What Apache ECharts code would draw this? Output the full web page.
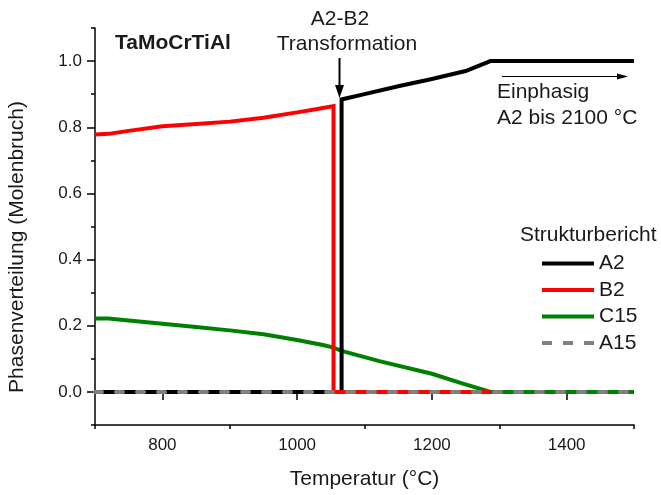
<!DOCTYPE html>
<html><head><meta charset="utf-8">
<script src="https://cdn.jsdelivr.net/npm/echarts@6/dist/echarts.min.js"></script>
<style>html,body{margin:0;padding:0;background:#fff}#c{width:661px;height:495px}</style>
</head><body><div id="c"></div>
<script>
// ---- data ----
const seriesNames = ['A2', 'B2', 'C15', 'A15'];
const a2Temp = [700, 1066, 1066, 1100, 1150, 1200, 1250, 1287, 1500];
const a2Frac = [0, 0, 0.884, 0.900, 0.924, 0.946, 0.970, 1.0, 1.0];
const b2Temp = [700, 720, 750, 800, 850, 900, 950, 1000, 1030, 1054, 1054, 1287];
const b2Frac = [0.778, 0.780, 0.789, 0.803, 0.810, 0.817, 0.829, 0.845, 0.855, 0.864, 0, 0];
const c15Temp = [700, 720, 750, 800, 850, 900, 950, 1000, 1040, 1054, 1066, 1122, 1200, 1246, 1287, 1500];
const c15Frac = [0.222, 0.222, 0.216, 0.206, 0.196, 0.186, 0.174, 0.157, 0.141, 0.134, 0.124, 0.093, 0.055, 0.025, 0, 0];
const a15Temp = [700, 1500];
const a15Frac = [0, 0];
const xMajorTicks = [800, 1000, 1200, 1400];
const xMinorTicks = [700, 900, 1100, 1300, 1500];
const yMajorTicks = [0, 0.2, 0.4, 0.6, 0.8, 1.0];
const yMinorTicks = [-0.1, 0.1, 0.3, 0.5, 0.7, 0.9, 1.1];

const zip = (xs, ys) => xs.map((x, i) => [x, ys[i]]);
const FONT = '"Liberation Sans", Arial, sans-serif';
const TXT = '#1a1a1a';

const chart = echarts.init(document.getElementById('c'), null, {renderer: 'canvas'});

const baseLine = (color, extra) => Object.assign({
  type: 'line', symbol: 'none', showSymbol: false, animation: false,
  lineStyle: {color: color, width: 4, join: 'miter'},
  itemStyle: {color: color},
  emphasis: {disabled: true}
}, extra || {});

const solidIcon = 'path://M0,0h52v4h-52z';
const dashIcon = 'path://M0,0h10v4h-10z M21,0h10v4h-10z M42,0h10v4h-10z';

chart.setOption({
  animation: false,
  backgroundColor: '#fff',
  textStyle: {fontFamily: FONT},
  grid: {left: 95, right: 27, top: 28, bottom: 67, containLabel: false},
  xAxis: [{
    type: 'value', min: 700, max: 1500, interval: 100,
    name: 'Temperatur (°C)', nameLocation: 'middle', nameGap: 44,
    nameTextStyle: {fontSize: 21, color: TXT, fontFamily: FONT},
    axisLine: {show: true, onZero: false, lineStyle: {color: '#000', width: 1.5}},
    axisTick: {show: true, inside: false, length: 4, customValues: xMinorTicks, lineStyle: {color: '#000', width: 1.5}},
    axisLabel: {show: true, customValues: xMajorTicks, margin: 12, fontSize: 17, color: TXT, fontFamily: FONT,
      formatter: v => String(Math.round(v))},
    splitLine: {show: false}
  }, {
    type: 'value', min: 700, max: 1500, position: 'bottom', offset: 0,
    axisLine: {show: false},
    axisTick: {show: true, inside: false, length: 8, customValues: xMajorTicks, lineStyle: {color: '#000', width: 1.5}},
    axisLabel: {show: false},
    splitLine: {show: false}
  }],
  yAxis: [{
    type: 'value', min: -0.1, max: 1.1, interval: 0.1,
    axisLine: {show: true, onZero: false, lineStyle: {color: '#000', width: 1.5}},
    axisTick: {show: true, inside: false, length: 4, customValues: yMinorTicks, lineStyle: {color: '#000', width: 1.5}},
    axisLabel: {show: true, customValues: yMajorTicks, margin: 13, fontSize: 17, color: TXT, fontFamily: FONT,
      formatter: v => Number(v).toFixed(1)},
    splitLine: {show: false}
  }, {
    type: 'value', min: -0.1, max: 1.1, position: 'left', offset: 0,
    axisLine: {show: false},
    axisTick: {show: true, inside: false, length: 8, customValues: yMajorTicks, lineStyle: {color: '#000', width: 1.5}},
    axisLabel: {show: false},
    splitLine: {show: false}
  }],
  legend: {
    data: [
      {name: 'A2', icon: solidIcon},
      {name: 'B2', icon: solidIcon},
      {name: 'C15', icon: solidIcon},
      {name: 'A15', icon: dashIcon}
    ],
    orient: 'vertical', left: 537, top: 248,
    itemWidth: 52, itemHeight: 4, itemGap: 5.5,
    textStyle: {fontSize: 21, color: TXT, fontFamily: FONT},
    selectedMode: false
  },
  series: [
    baseLine('#008000', {name: 'C15', data: zip(c15Temp, c15Frac), z: 2}),
    baseLine('#000000', {name: 'A2', data: zip(a2Temp, a2Frac), z: 3}),
    baseLine('#ff0000', {name: 'B2', data: zip(b2Temp, b2Frac), z: 4}),
    baseLine('#808080', {name: 'A15', data: zip(a15Temp, a15Frac), z: 5,
      lineStyle: {color: '#808080', width: 4, type: [7, 14], cap: 'round'}})
  ],
  graphic: [
    {type: 'text', x: 115, y: 43, style: {text: 'TaMoCrTiAl', font: 'bold 21px ' + FONT, fill: TXT, verticalAlign: 'middle'}},
    {type: 'text', x: 340, y: 19, style: {text: 'A2-B2', font: '21px ' + FONT, fill: TXT, align: 'center', verticalAlign: 'middle'}},
    {type: 'text', x: 347, y: 44, style: {text: 'Transformation', font: '21px ' + FONT, fill: TXT, align: 'center', verticalAlign: 'middle'}},
    {type: 'line', shape: {x1: 339.5, y1: 58, x2: 339.5, y2: 90}, style: {stroke: '#000', lineWidth: 2}},
    {type: 'polygon', shape: {points: [[335, 85], [344, 85], [339.5, 98]]}, style: {fill: '#000'}},
    {type: 'line', shape: {x1: 502, y1: 76.5, x2: 620, y2: 76.5}, style: {stroke: '#000', lineWidth: 1}},
    {type: 'polygon', shape: {points: [[617, 73.5], [628, 76.5], [617, 79.5]]}, style: {fill: '#000'}},
    {type: 'text', x: 497, y: 92, style: {text: 'Einphasig', font: '21px ' + FONT, fill: TXT, verticalAlign: 'middle'}},
    {type: 'text', x: 497, y: 118, style: {text: 'A2 bis 2100 °C', font: '21px ' + FONT, fill: TXT, verticalAlign: 'middle'}},
    {type: 'text', x: 520, y: 235, style: {text: 'Strukturbericht', font: '21px ' + FONT, fill: TXT, verticalAlign: 'middle'}},
    {type: 'text', x: 17, y: 247, rotation: Math.PI / 2, style: {text: 'Phasenverteilung (Molenbruch)', font: '21px ' + FONT, fill: TXT, align: 'center', verticalAlign: 'middle'}}
  ]
});
</script>
</body></html>
